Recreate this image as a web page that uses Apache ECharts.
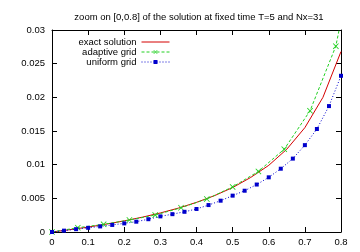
<!DOCTYPE html>
<html><head><meta charset="utf-8">
<script src="https://cdn.jsdelivr.net/npm/echarts@6/dist/echarts.min.js"></script>
<style>html,body{margin:0;padding:0;background:#fff}#c{width:360px;height:252px}</style>
</head><body><div id="c"></div>
<script>
const titleText = "zoom on [0,0.8] of the solution at fixed time T=5 and Nx=31";
const seriesNames = ["exact solution", "adaptive grid", "uniform grid"];
const exactX = [0,0.05,0.1,0.15,0.2,0.25,0.3,0.35,0.4,0.45,0.5,0.55,0.6,0.65,0.7,0.75,0.8];
const exactY = [0,0.00035,0.00073,0.00117,0.00165,0.0022,0.00283,0.00355,0.0044,0.0054,0.0066,0.0081,0.0099,0.0123,0.0155,0.0200,0.0268];
const adaptX = [0,0.0714,0.1429,0.2143,0.2857,0.3571,0.4286,0.5,0.5714,0.6429,0.7143,0.7857,0.8571];
const adaptY = [0,0.00064,0.00114,0.00178,0.00252,0.0036,0.0049,0.0067,0.0090,0.0123,0.0180,0.0276,0.0466];
const unifX = [0,0.0333,0.0667,0.1,0.1333,0.1667,0.2,0.2333,0.2667,0.3,0.3333,0.3667,0.4,0.4333,0.4667,0.5,0.5333,0.5667,0.6,0.6333,0.6667,0.7,0.7333,0.7667,0.8];
const unifY = [0,0.0002,0.00042,0.00062,0.00083,0.00105,0.00128,0.00153,0.0019,0.00232,0.00265,0.003,0.00342,0.004,0.00465,0.0054,0.00613,0.00705,0.00812,0.0094,0.0109,0.0129,0.0153,0.0187,0.0232];
const xTicks = [0,0.1,0.2,0.3,0.4,0.5,0.6,0.7,0.8];
const yTicks = [0,0.005,0.01,0.015,0.02,0.025,0.03];

const zip = (a,b)=>a.map((v,i)=>[v,b[i]]);
const F = "Liberation Sans, Arial, sans-serif";
const crossPath = "path://M0,1L1,0L5,4L9,0L10,1L6,5L10,9L9,10L5,6L1,10L0,9L4,5Z";
const chart = echarts.init(document.getElementById('c'), null, {renderer:'canvas'});
const axisCommon = {
  axisLine:{show:true,onZero:false,lineStyle:{color:'#000',width:1}},
  axisTick:{show:true,inside:true,length:5,lineStyle:{color:'#000'}},
  splitLine:{show:false}
};
chart.setOption({
  animation:false,
  backgroundColor:'#fff',
  title:{text:titleText,left:194,top:7,textAlign:'center',
    textStyle:{fontFamily:F,fontSize:9.5,fontWeight:'normal',color:'#000'}},
  legend:{right:185,top:32,orient:'vertical',align:'right',itemWidth:28,itemHeight:5,itemGap:0,
    lineStyle:{width:1},
    textStyle:{fontFamily:F,fontSize:9.5,color:'#000',lineHeight:8,padding:[0,0,0,0]},
    data:[{name:seriesNames[0],itemStyle:{opacity:0}},seriesNames[1],seriesNames[2]]},
  grid:{left:52,right:19,top:30,bottom:20},
  xAxis:[
    Object.assign({type:'value',min:0,max:0.8,interval:0.1,position:'bottom',
      axisLabel:{fontFamily:F,fontSize:9.5,color:'#000',margin:5,
        formatter:v=>{const t=xTicks.find(x=>Math.abs(x-v)<1e-9);return t===undefined?'':String(t);}}},axisCommon),
    Object.assign({type:'value',min:0,max:0.8,interval:0.1,position:'top',axisLabel:{show:false}},axisCommon)
  ],
  yAxis:[
    Object.assign({type:'value',min:0,max:0.03,interval:0.005,position:'left',
      axisLabel:{fontFamily:F,fontSize:9.5,color:'#000',margin:7,
        formatter:v=>{const t=yTicks.find(x=>Math.abs(x-v)<1e-9);return t===undefined?'':String(t);}}},axisCommon),
    Object.assign({type:'value',min:0,max:0.03,interval:0.005,position:'right',axisLabel:{show:false}},axisCommon)
  ],
  series:[
    {name:seriesNames[0],type:'line',data:zip(exactX,exactY),showSymbol:false,symbol:'none',clip:true,
      lineStyle:{color:'#d40000',width:1},itemStyle:{color:'#d40000'}},
    {name:seriesNames[1],type:'line',data:zip(adaptX,adaptY),symbol:crossPath,symbolSize:6,clip:true,
      lineStyle:{color:'#22d022',width:1,type:[3,2]},itemStyle:{color:'#22d022'}},
    {name:seriesNames[2],type:'line',data:zip(unifX,unifY),symbol:'rect',symbolSize:4,clip:true,
      lineStyle:{color:'#0000cc',width:1,type:[1,2]},itemStyle:{color:'#0000cc'}}
  ]
});
</script></body></html>
